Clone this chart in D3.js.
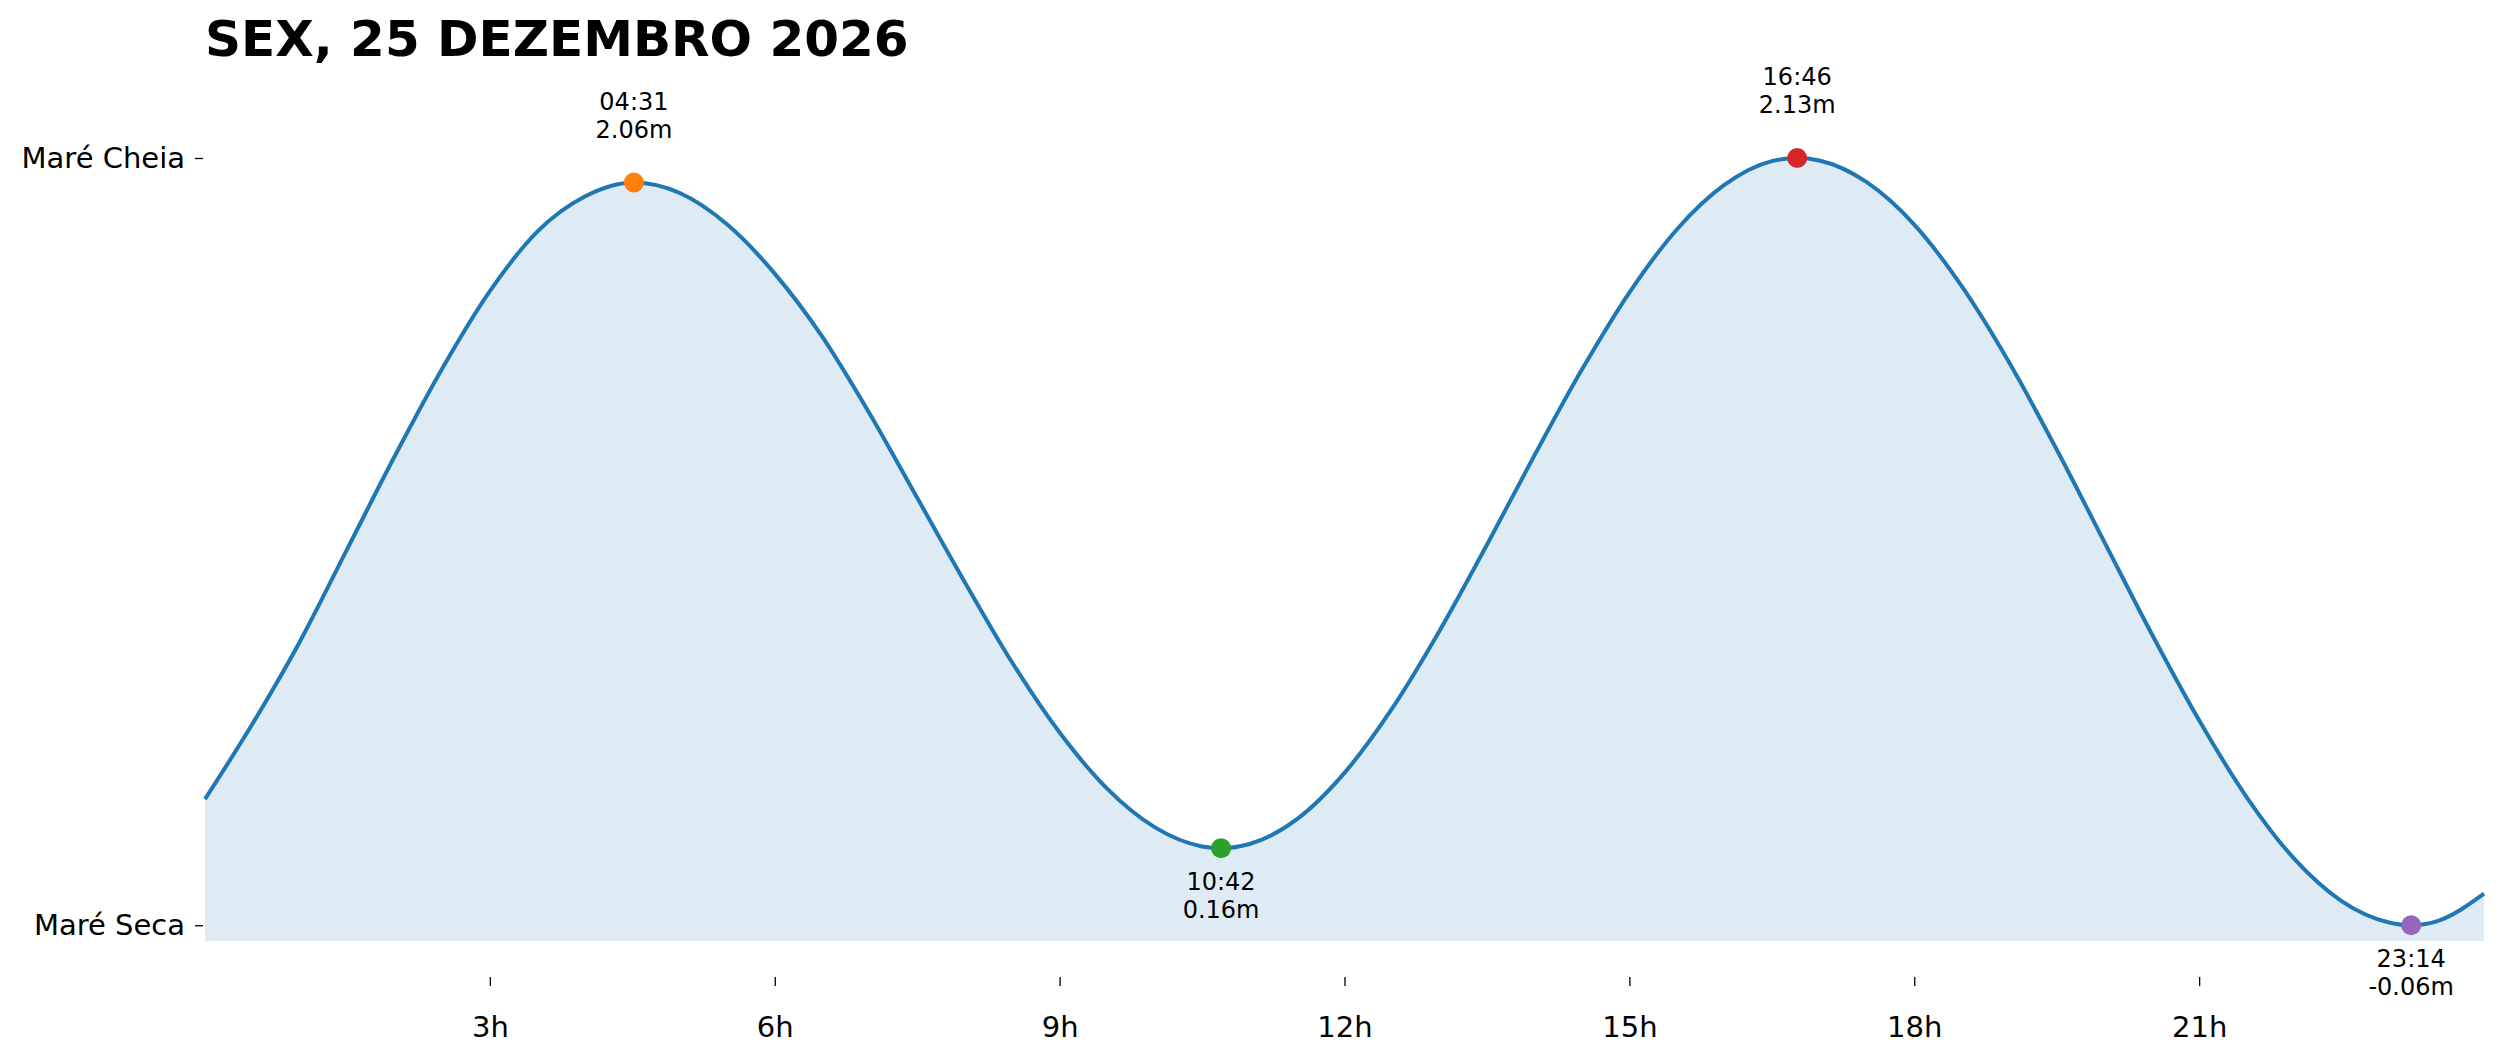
<!DOCTYPE html>
<html>
<head>
<meta charset="utf-8">
<script src="https://cdn.jsdelivr.net/npm/d3@7"></script>
<style>
  body { margin: 0; background: #fff; }
  text { font-family: "DejaVu Sans", sans-serif; fill: #000; }
</style>
</head>
<body>
<div id="chart"></div>
<script>
var width = 2501, height = 1062;

// tide curve, every half hour plus the turning points (hours, metres)
var curveHours = [0, 0.5, 1, 1.5, 2, 2.5, 3, 3.5, 4, 4.517, 5, 5.5, 6, 6.5, 7, 7.5, 8, 8.5, 9, 9.5, 10, 10.5, 10.7,
                  11, 11.5, 12, 12.5, 13, 13.5, 14, 14.5, 15, 15.5, 16, 16.5, 16.767, 17, 17.5, 18, 18.5, 19, 19.5,
                  20, 20.5, 21, 21.5, 22, 22.5, 23, 23.233, 23.5, 24];
var curveHeights = [0.30, 0.515, 0.75, 1.015, 1.28, 1.53, 1.75, 1.92, 2.02, 2.06, 2.03, 1.94, 1.80, 1.62, 1.40, 1.16, 0.92, 0.69, 0.49, 0.33, 0.22, 0.165, 0.16,
                    0.172, 0.243, 0.375, 0.558, 0.78, 1.026, 1.281, 1.526, 1.746, 1.926, 2.053, 2.121, 2.13, 2.123, 2.061, 1.94, 1.764, 1.546, 1.298,
                    1.035, 0.772, 0.525, 0.306, 0.13, 0.009, -0.052, -0.06, -0.049, 0.03];

// high / low water
var extremeLabels  = ["04:31", "10:42", "16:46", "23:14"];
var extremeHours   = [4.517, 10.7, 16.767, 23.233];
var extremeHeights = [2.06, 0.16, 2.13, -0.06];
var extremeHigh    = [true, false, true, false];
var extremeColors  = ["#ff7f0e", "#2ca02c", "#d62728", "#9467bd"];

var xTicks = [3, 6, 9, 12, 15, 18, 21];
var yTickLabels = ["Maré Cheia", "Maré Seca"];
var title = "SEX, 25 DEZEMBRO 2026";
var floorLevel = -0.105;

var svg = d3.select("#chart").append("svg")
    .attr("width", width)
    .attr("height", height);

var x = d3.scaleLinear().domain([0, 24]).range([205, 2484]);
var y = d3.scaleLinear().domain([floorLevel, 2.13]).range([941, 158]);

var curve = curveHours.map(function(h, i) { return {h: h, v: curveHeights[i]}; });

var area = d3.area()
    .x(function(d) { return x(d.h); })
    .y0(y(floorLevel))
    .y1(function(d) { return y(d.v); })
    .curve(d3.curveMonotoneX);

var line = d3.line()
    .x(function(d) { return x(d.h); })
    .y(function(d) { return y(d.v); })
    .curve(d3.curveMonotoneX);

svg.append("path")
    .datum(curve)
    .attr("d", area)
    .attr("fill", "#1f77b4")
    .attr("fill-opacity", 0.15);

svg.append("path")
    .datum(curve)
    .attr("d", line)
    .attr("fill", "none")
    .attr("stroke", "#1f77b4")
    .attr("stroke-width", 4);

// x axis: spine hidden, ticks below the fill
var xAxis = d3.axisBottom(x)
    .tickValues(xTicks)
    .tickFormat(function(d) { return d + "h"; })
    .tickSize(9)
    .tickPadding(30);

var gx = svg.append("g")
    .attr("transform", "translate(0,977)")
    .call(xAxis);
gx.select(".domain").remove();
gx.selectAll("line").attr("stroke", "#000").attr("stroke-width", 1.3);
gx.selectAll("text").attr("font-size", 29).attr("font-family", "DejaVu Sans");

// y axis: just the two named ticks
var yMax = d3.max(extremeHeights), yMin = d3.min(extremeHeights);
var yAxis = d3.axisLeft(y)
    .tickValues([yMax, yMin])
    .tickFormat(function(d, i) { return yTickLabels[i]; })
    .tickSize(8)
    .tickPadding(10);

var gy = svg.append("g")
    .attr("transform", "translate(203,0)")
    .call(yAxis);
gy.select(".domain").remove();
gy.selectAll("line").attr("stroke", "#000").attr("stroke-width", 1.3);
gy.selectAll("text").attr("font-size", 29).attr("font-family", "DejaVu Sans");

// markers and labels
var ext = extremeLabels.map(function(t, i) {
    return {t: t, h: extremeHours[i], v: extremeHeights[i], high: extremeHigh[i], c: extremeColors[i]};
});

svg.selectAll("circle.ext")
    .data(ext)
    .enter().append("circle")
    .attr("class", "ext")
    .attr("cx", function(d) { return x(d.h); })
    .attr("cy", function(d) { return y(d.v); })
    .attr("r", 10)
    .attr("fill", function(d) { return d.c; });

var lab = svg.selectAll("g.lab")
    .data(ext)
    .enter().append("g")
    .attr("class", "lab")
    .attr("transform", function(d) { return "translate(" + x(d.h) + "," + y(d.v) + ")"; });

lab.append("text")
    .attr("text-anchor", "middle")
    .attr("font-size", 24)
    .attr("y", function(d) { return d.high ? -73 : 42; })
    .text(function(d) { return d.t; });

lab.append("text")
    .attr("text-anchor", "middle")
    .attr("font-size", 24)
    .attr("y", function(d) { return d.high ? -45 : 70; })
    .text(function(d) { return d.v.toFixed(2) + "m"; });

svg.append("text")
    .attr("x", 205)
    .attr("y", 56)
    .attr("font-size", 50)
    .attr("font-weight", "bold")
    .text(title);
</script>
</body>
</html>
